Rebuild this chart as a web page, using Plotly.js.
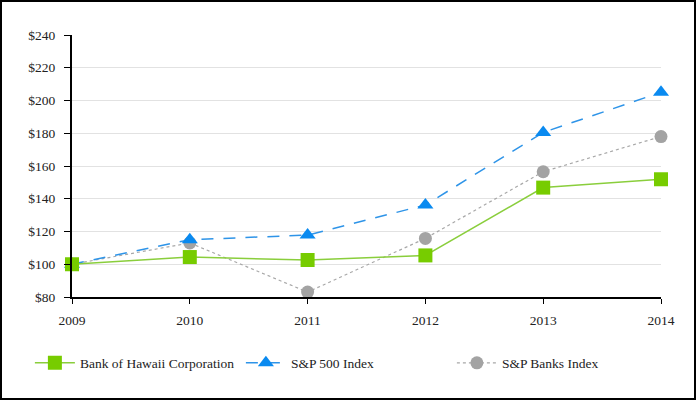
<!DOCTYPE html>
<html><head><meta charset="utf-8">
<script src="https://cdn.plot.ly/plotly-3.0.1.min.js"></script>
<style>
body{margin:0;padding:0;background:#fff}
#chart{position:absolute;left:0;top:0;width:696px;height:400px}
#frame{position:absolute;left:0;top:0;width:696px;height:400px;box-sizing:border-box;border:2px solid #000;pointer-events:none}
</style></head>
<body>
<div id="chart"></div><div id="frame"></div>
<script>
const years = [2009, 2010, 2011, 2012, 2013, 2014];
const bankOfHawaii = [100, 104.4, 102.6, 105.4, 146.8, 151.9];
const sp500 = [100, 115, 117.8, 136.2, 180.5, 205];
const spBanks = [100, 113, 83, 115.8, 156.5, 178];
const yTicks = [80, 100, 120, 140, 160, 180, 200, 220, 240];
const yTickText = yTicks.map(v => '$' + v);

const traces = [
  {x: years, y: spBanks, name: 'S&P Banks Index', mode: 'lines+markers', cliponaxis: false,
   line: {color: '#A8A8A8', width: 1.2, dash: 'dot'},
   marker: {symbol: 'circle', size: 13, color: '#A3A3A3'}},
  {x: years, y: sp500, name: 'S&P 500 Index', mode: 'lines+markers', cliponaxis: false,
   line: {color: '#2E94E8', width: 1.5, dash: '12px,10px'},
   marker: {symbol: 'triangle-up', size: 14, color: '#0A8AF0'}},
  {x: years, y: bankOfHawaii, name: 'Bank of Hawaii Corporation', mode: 'lines+markers', cliponaxis: false,
   line: {color: '#8ACE3C', width: 1.5},
   marker: {symbol: 'square', size: 14, color: '#77CC00'}}
];

const layout = {
  width: 696, height: 400,
  margin: {l: 72, r: 35, t: 35, b: 103, autoexpand: false},
  paper_bgcolor: '#fff', plot_bgcolor: '#fff',
  font: {family: '"Liberation Serif", "Times New Roman", serif', size: 13.5, color: '#222'},
  showlegend: true,
  xaxis: {range: [2009, 2014], tickvals: years, ticktext: years.map(String),
    showgrid: false, zeroline: false, showline: true, linecolor: '#000', linewidth: 2,
    ticks: 'outside', ticklen: 5, tickcolor: '#000', tickwidth: 1, ticklabelstandoff: 5},
  yaxis: {range: [80, 240], tickvals: yTicks, ticktext: yTickText,
    showgrid: true, gridcolor: '#E2E2E2', gridwidth: 1, zeroline: false,
    showline: true, linecolor: '#000', linewidth: 2,
    ticks: 'outside', ticklen: 6, tickcolor: '#000', tickwidth: 1, ticklabelstandoff: 6},
  legend: {orientation: 'h', traceorder: 'reversed', x: -0.0715, xanchor: 'left', y: -0.252, yanchor: 'middle',
    itemwidth: 40, entrywidth: 156, entrywidthmode: 'pixels', font: {size: 13.5},
    bgcolor: 'rgba(0,0,0,0)'}
};
Plotly.newPlot('chart', traces, layout, {displayModeBar: false, staticPlot: true});
</script>
</body></html>
